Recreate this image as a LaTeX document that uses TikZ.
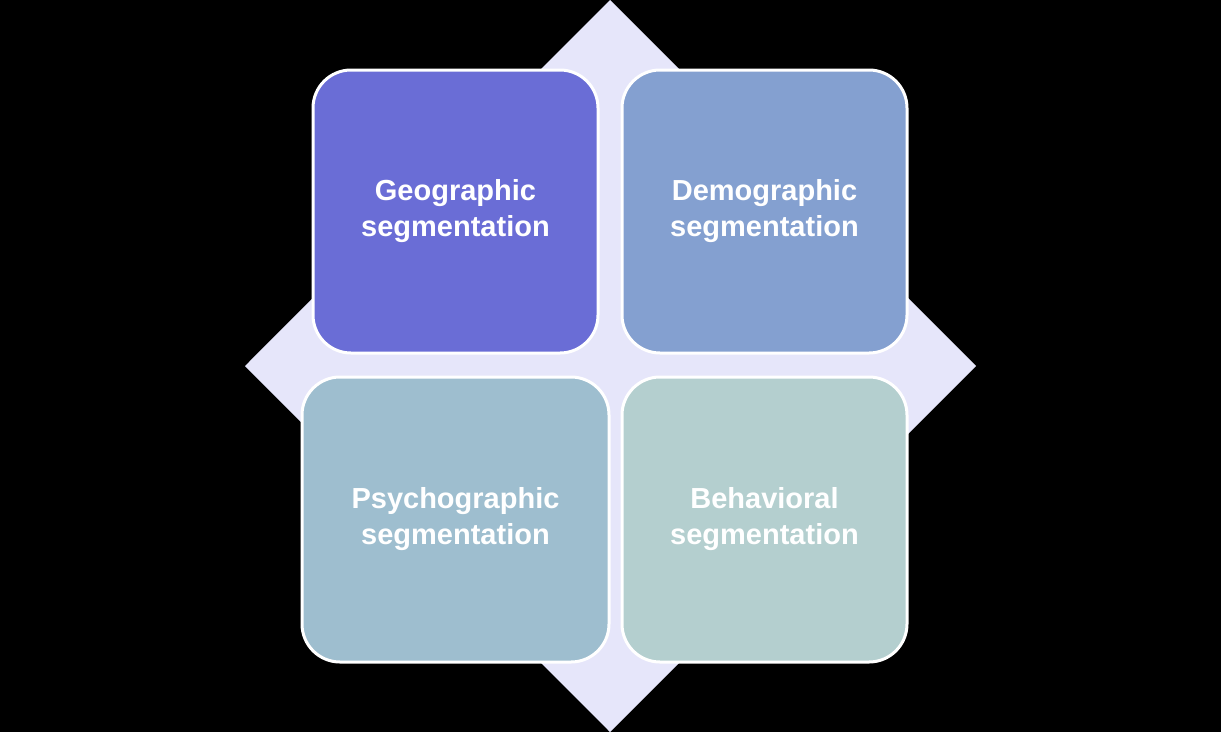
\documentclass[tikz,border=0pt]{standalone}
\usepackage{fontspec}
\setmainfont{Liberation Sans}
\usetikzlibrary{shapes.geometric}
\definecolor{geocol}{HTML}{6A6DD6}
\definecolor{democol}{HTML}{84A0D0}
\definecolor{psycol}{HTML}{9EBECF}
\definecolor{behcol}{HTML}{B4CFCF}
\definecolor{diacol}{HTML}{E6E6FA}
\begin{document}
\begin{tikzpicture}
[
x=1pt,y=-1pt,
segbox/.style={draw=white,line width=3pt,rounded corners=38pt,
  text=white,font=\fontsize{29}{36}\selectfont\bfseries,align=center,
  inner sep=0pt}
]
\fill[black] (0,0) rectangle (1221,732);
\useasboundingbox (0,0) rectangle (1221,732);

\fill[diacol] (610,0) -- (976,366) -- (610,732) -- (245,366) -- cycle;

\node[segbox,fill=geocol,minimum width=285pt,minimum height=283pt] (geo) at (455.5,211.5) {Geographic\\segmentation};
\node[segbox,fill=democol,minimum width=285pt,minimum height=283pt] (demo) at (764.5,211.5) {Demographic\\segmentation};
\node[segbox,fill=psycol,minimum width=307pt,minimum height=285pt] (psy) at (455.5,519.5) {Psychographic\\segmentation};
\node[segbox,fill=behcol,minimum width=285pt,minimum height=285pt] (beh) at (764.5,519.5) {Behavioral\\segmentation};
\end{tikzpicture}
\end{document}
